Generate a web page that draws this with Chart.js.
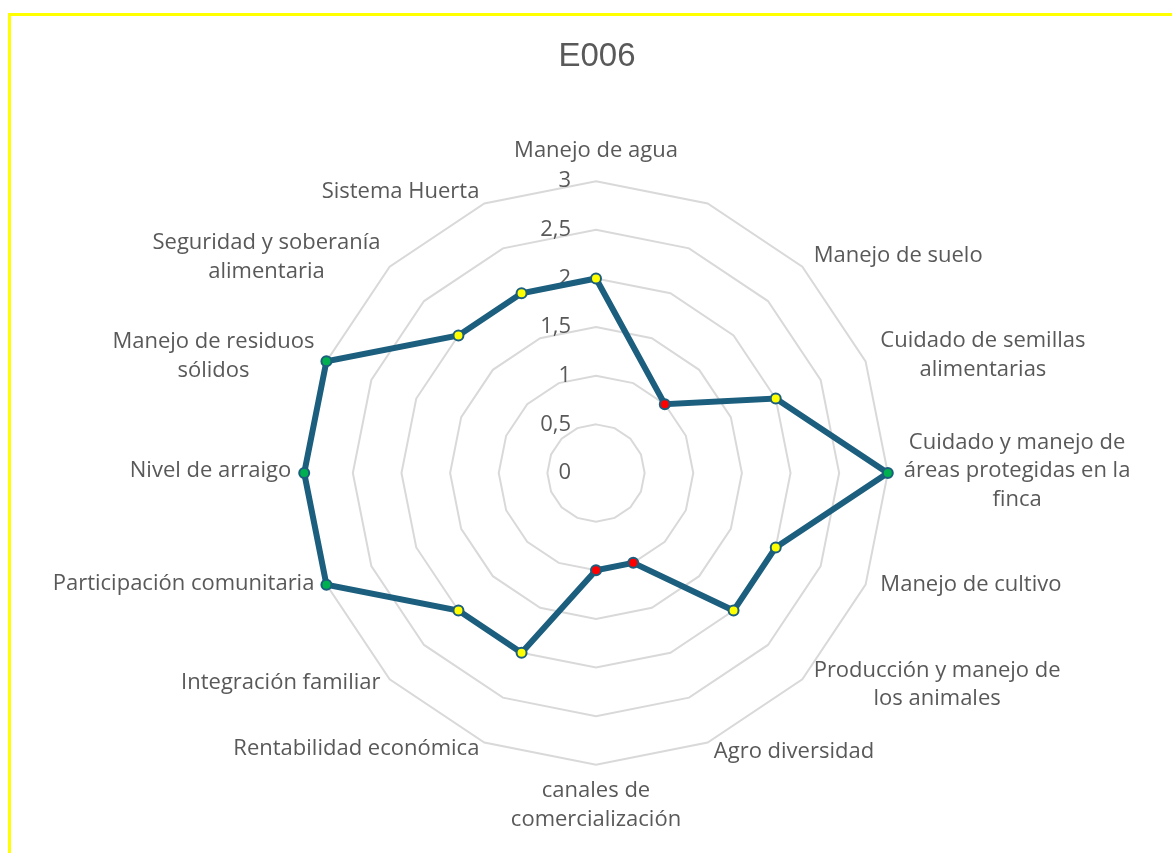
<!DOCTYPE html>
<html>
<head>
<meta charset="utf-8">
<script src="https://cdn.jsdelivr.net/npm/chart.js@4.4.1/dist/chart.umd.min.js"></script>
<style>
body { margin: 0; background: #fff; overflow: hidden; }
#wrap { position: relative; width: 1172px; height: 853px; overflow: hidden; }
#frame { position: absolute; left: 8px; top: 13px; right: -10px; bottom: -10px; border-top: 3px solid #ffff00; border-left: 3px solid #ffff00; }
#myChart { position: absolute; left: 0; top: 0; }
</style>
</head>
<body>
<div id="wrap"><div id="frame"></div><canvas id="myChart" width="1172" height="853"></canvas></div>
<script>
'use strict';

let chartTitle = 'E006';

// categories (the second one is an empty column in the source sheet)
let labels = [
    'Manejo de agua',
    '',
    'Manejo de suelo',
    ['Cuidado de semillas', 'alimentarias'],
    ['Cuidado y manejo de', 'áreas protegidas en la', 'finca'],
    'Manejo de cultivo',
    ['Producción y manejo de', 'los animales'],
    'Agro diversidad',
    ['canales de', 'comercialización'],
    'Rentabilidad económica',
    'Integración familiar',
    'Participación comunitaria',
    'Nivel de arraigo',
    ['Manejo de residuos', 'sólidos'],
    ['Seguridad y soberanía', 'alimentaria'],
    'Sistema Huerta'
];
let values = [2, null, 1, 2, 3, 2, 2, 1, 1, 2, 2, 3, 3, 3, 2, 2];
let tickValues = [0, 0.5, 1, 1.5, 2, 2.5, 3];
let tickLabels = ['0', '0,5', '1', '1,5', '2', '2,5', '3'];

let lineColor = '#1b5e7d';
let textColor = '#595959';
let levelColors = { 1: '#ff0000', 2: '#ffff00', 3: '#00b050' };
let labelFont = { family: '"Open Sans", sans-serif', size: 22, lineHeight: 1.3 };
let labelPad = 16;

// title, tick labels left of the vertical axis and Excel-like point labels
let textPlugin = {
    id: 'textPlugin',
    beforeDatasetsDraw(chart) {
        let scale = chart.scales.r;
        let ctx = chart.ctx;
        ctx.save();
        ctx.fillStyle = textColor;
        ctx.font = labelFont.size + 'px ' + labelFont.family;
        ctx.textAlign = 'right';
        ctx.textBaseline = 'middle';
        for (let i = 0; i < tickValues.length; i++) {
            let y = scale.yCenter - scale.getDistanceFromCenterForValue(tickValues[i]);
            ctx.fillText(tickLabels[i], scale.xCenter - 25, y);
        }
        ctx.restore();
    },
    afterDraw(chart) {
        let scale = chart.scales.r;
        let ctx = chart.ctx;
        let lh = labelFont.size * labelFont.lineHeight;
        ctx.save();
        ctx.fillStyle = textColor;
        ctx.textAlign = 'center';
        ctx.textBaseline = 'middle';

        ctx.font = '33px "Liberation Sans", Arial, sans-serif';
        ctx.fillText(chartTitle, scale.xCenter + 1, 57);

        ctx.font = labelFont.size + 'px ' + labelFont.family;
        labels.forEach((lab, i) => {
            let lines = [].concat(lab);
            if (!lines[0]) return;
            let deg = Math.round(scale.getIndexAngle(i) * 180 / Math.PI) % 360;
            let p = scale.getPointPosition(i, scale.drawingArea + labelPad - (deg > 180 ? 3 : 0));
            let blockH = lines.length * lh;
            let blockW = Math.max(...lines.map(l => ctx.measureText(l).width));
            let cx, top;
            if (deg === 0) {
                cx = p.x;
                top = p.y - blockH;
            } else if (deg === 180) {
                cx = p.x;
                top = p.y - 4;
            } else {
                cx = deg < 180 ? p.x + blockW / 2 : p.x - blockW / 2;
                let shift = deg === 90 || deg === 270 ? -2 : (deg > 90 && deg < 270 ? -6 : 0);
                top = p.y - blockH / 2 + shift;
            }
            lines.forEach((line, j) => {
                ctx.fillText(line, cx, top + lh / 2 + j * lh);
            });
        });
        ctx.restore();
    }
};

let ctx = document.getElementById('myChart').getContext('2d');

let myChart = new Chart(ctx, {
    type: 'radar',
    data: {
        labels: labels,
        datasets: [{
            label: chartTitle,
            data: values,
            spanGaps: true,
            fill: false,
            borderColor: lineColor,
            borderWidth: 6,
            pointRadius: 5,
            pointBorderWidth: 2,
            pointBorderColor: lineColor,
            pointBackgroundColor: (c) => levelColors[c.raw] || '#ffffff'
        }]
    },
    options: {
        responsive: false,
        animation: false,
        layout: { padding: { top: 123, bottom: 0, left: 12, right: 0 } },
        plugins: {
            legend: { display: false },
            tooltip: { enabled: false },
            title: { display: false }
        },
        scales: {
            r: {
                min: 0,
                max: 3,
                ticks: { display: false, stepSize: 0.5 },
                angleLines: { display: false },
                grid: { color: '#d9d9d9', lineWidth: 2 },
                pointLabels: {
                    // invisible: only used so the scale leaves room for the labels
                    color: 'rgba(0,0,0,0)',
                    font: labelFont,
                    padding: labelPad
                }
            }
        }
    },
    plugins: [textPlugin]
});
</script>
</body>
</html>
